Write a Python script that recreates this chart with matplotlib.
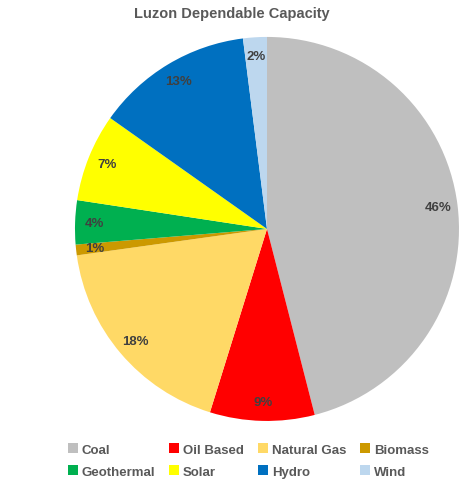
import matplotlib.pyplot as plt
from matplotlib.patches import Patch

plt.rcParams['font.family'] = ['Liberation Sans', 'DejaVu Sans']

labels = ['Coal', 'Oil Based', 'Natural Gas', 'Biomass', 'Geothermal', 'Solar', 'Hydro', 'Wind']
shares = [46.0, 8.8, 18.0, 0.9, 3.7, 7.4, 13.2, 2.0]
colors = ['#BFBFBF', '#FF0000', '#FFD966', '#CC9900', '#00B050', '#FFFF00', '#0070C0', '#BDD7EE']

fig = plt.figure(figsize=(4.64, 4.85), dpi=100)
ax = fig.add_axes([0.1616, 0.130, 0.8276, 0.7918])

wedges, texts, autotexts = ax.pie(
    shares, colors=colors, startangle=90, counterclock=False,
    autopct='%1.0f%%', pctdistance=0.9, radius=1.0,
    wedgeprops=dict(linewidth=0),
    textprops=dict(fontsize=9.5, fontweight='bold', color='#404040'))
ax.set_xlim(-1, 1)
ax.set_ylim(-1, 1)
ax.set_aspect('equal')

fig.text(0.5, 0.971, 'Luzon Dependable Capacity', ha='center', va='center',
         fontsize=10.5, fontweight='bold', color='#595959')

# legend fills row by row in the reference, matplotlib fills by column
order = [0, 4, 1, 5, 2, 6, 3, 7]
handles = [Patch(facecolor=colors[i], edgecolor='none') for i in order]
leg = fig.legend(handles, [labels[i] for i in order], ncol=4,
                 loc='center', bbox_to_anchor=(0.535, 0.0485),
                 frameon=False, handlelength=0.75, handleheight=0.75,
                 handletextpad=0.3, columnspacing=1.05, labelspacing=0.75,
                 prop=dict(size=9.5, weight='bold'))
for t in leg.get_texts():
    t.set_color('#595959')

fig.savefig('out.png', dpi=100)
